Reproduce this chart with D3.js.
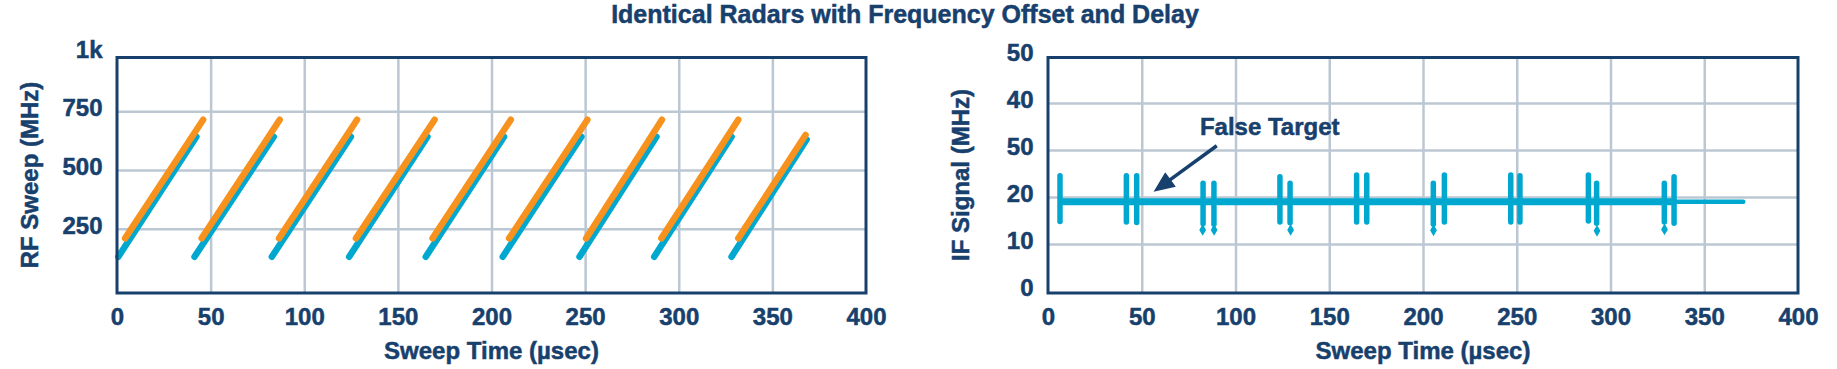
<!DOCTYPE html>
<html><head><meta charset="utf-8">
<script src="https://cdn.jsdelivr.net/npm/d3@7"></script>
<style>
html,body{margin:0;padding:0;background:#fff;}
svg{display:block;}
text{font-family:"Liberation Sans",Arial,sans-serif;font-weight:bold;fill:#17406d;stroke:#17406d;stroke-width:0.5px;}
</style></head><body>
<svg id="chart" width="1837" height="369"></svg>
<script>
// ---------- DATA ----------
const chartTitle = "Identical Radars with Frequency Offset and Delay";
const xTitle = "Sweep Time (µsec)";
const rfTitle = "RF Sweep (MHz)";
const ifTitle = "IF Signal (MHz)";
const xTicks = [0, 50, 100, 150, 200, 250, 300, 350, 400];
const rfYTicks = [250, 500, 750, 1000];
const rfYTickLabels = ["250", "500", "750", "1k"];
const ifYTicks = [0, 10, 20, 30, 40, 50];
const ifYTickLabels = ["0", "10", "20", "50", "40", "50"];

// RF sweeps (time in µs, frequency in MHz)
const blueStartTime = [0.7, 41.4, 82.7, 124.0, 164.9, 206.0, 247.0, 286.9, 328.2];
const blueEndTime   = [42.4, 83.7, 124.9, 165.8, 206.7, 248.0, 288.1, 328.2, 368.3];
const blueStartFreq = [131, 131, 131, 131, 131, 131, 131, 131, 131];
const blueEndFreq   = [642, 642, 642, 642, 642, 642, 642, 642, 630];
const orangeStartTime = [4.3, 45.2, 86.5, 127.6, 168.5, 209.4, 250.5, 290.7, 331.8];
const orangeEndTime   = [46.0, 86.9, 128.2, 169.6, 210.3, 251.2, 291.0, 331.8, 367.7];
const orangeStartFreq = [209, 209, 209, 209, 209, 209, 209, 209, 209];
const orangeEndFreq   = [714, 714, 714, 714, 714, 714, 714, 714, 649];

// IF signal
const ifLevel = 19.0;
const ifMainTime = [6.4, 333.9];
const ifTailTime = [333.9, 370.8];
const spikeTime   = [6.4, 41.8, 47.3, 82.7, 88.5, 123.7, 129.1, 164.6, 170.0, 205.5, 211.4, 246.8, 251.7, 288.2, 292.6, 328.7, 333.9];
const spikeTop    = [24.5, 24.5, 24.5, 22.9, 22.9, 24.3, 22.9, 24.7, 24.7, 22.9, 24.7, 24.7, 24.5, 24.7, 22.9, 22.9, 24.3];
const spikeBottom = [14.8, 14.7, 14.6, 14.3, 14.2, 14.7, 14.5, 14.7, 14.7, 14.2, 14.7, 14.7, 14.7, 14.9, 14.4, 14.7, 14.4];
const dotTime  = [82.5, 88.6, 129.4, 205.6, 292.8, 328.8];
const dotValue = [13.0, 13.0, 13.0, 12.9, 12.8, 13.1];

// annotation
const annotationText = "False Target";
const annotationAt = [81, 35.1];
const arrowTail = [90.0, 30.9];
const arrowTip = [56.3, 21.1];

// ---------- STYLE / LAYOUT ----------
const NAVY = "#17406d", GRID = "#bcc7d4", BLUE = "#00a8cf", ORANGE = "#f7921e";
const FONT = "'Liberation Sans', Arial, sans-serif";
const TICK_FS = 24, TITLE_FS = 24;
const plotTop = 57.5, plotBottom = 293;

const svg = d3.select("#chart");

svg.append("text").attr("x", 905).attr("y", 23).attr("text-anchor", "middle")
  .attr("font-size", 25).text(chartTitle);

const xL = d3.scaleLinear([0, 400], [117, 866]);
const yL = d3.scaleLinear([0, 1000], [287.5, 52.5]);
const xR = d3.scaleLinear([0, 400], [1048, 1798]);
const yR = d3.scaleLinear([0, 50], [291, 56]);

function styleText(sel) {
  sel.selectAll("text").attr("font-size", TICK_FS).attr("fill", NAVY)
    .attr("font-weight", "bold").attr("font-family", FONT);
}

function frame(x, y, yGrid, yTicks, yLabels, yTitle, yTitleX) {
  const [x0, x1] = x.range();
  const g = svg.append("g");
  g.append("g").attr("transform", `translate(0,${plotBottom})`)
    .call(d3.axisBottom(x).tickValues(xTicks.slice(1, -1)).tickSize(-(plotBottom - plotTop)).tickFormat(""))
    .call(a => a.select(".domain").remove())
    .call(a => a.selectAll("line").attr("stroke", GRID).attr("stroke-width", 2.5));
  g.append("g").attr("transform", `translate(${x0},0)`)
    .call(d3.axisLeft(y).tickValues(yGrid).tickSize(-(x1 - x0)).tickFormat(""))
    .call(a => a.select(".domain").remove())
    .call(a => a.selectAll("line").attr("stroke", GRID).attr("stroke-width", 2.5));
  svg.append("g").attr("transform", `translate(0,${plotBottom})`)
    .call(d3.axisBottom(x).tickValues(xTicks).tickSize(0).tickPadding(15).tickFormat(d3.format("d")))
    .call(a => a.select(".domain").remove())
    .call(styleText);
  svg.append("g").attr("transform", `translate(${x0},-3)`)
    .call(d3.axisLeft(y).tickValues(yTicks).tickSize(0).tickPadding(14.5).tickFormat((d, i) => yLabels[i]))
    .call(a => a.select(".domain").remove())
    .call(styleText);
  svg.append("text").attr("x", (x0 + x1) / 2).attr("y", 359).attr("text-anchor", "middle")
    .attr("font-size", TITLE_FS).text(xTitle);
  svg.append("text").attr("transform", `translate(${yTitleX},175) rotate(-90)`)
    .attr("text-anchor", "middle").attr("dominant-baseline", "central")
    .attr("font-size", TITLE_FS).text(yTitle);
}

function border(x) {
  const [x0, x1] = x.range();
  svg.append("rect").attr("x", x0).attr("y", plotTop).attr("width", x1 - x0)
    .attr("height", plotBottom - plotTop).attr("fill", "none")
    .attr("stroke", NAVY).attr("stroke-width", 3);
}

// ---------- LEFT: RF SWEEP ----------
frame(xL, yL, [250, 500, 750], rfYTicks, rfYTickLabels, rfTitle, 29);

const line = d3.line();
function sweeps(starts, ends, f0, f1, color) {
  svg.append("g").selectAll("path").data(d3.range(starts.length)).join("path")
    .attr("d", i => line([[xL(starts[i]), yL(f0[i])], [xL(ends[i]), yL(f1[i])]]))
    .attr("stroke", color).attr("stroke-width", 6.5).attr("stroke-linecap", "round").attr("fill", "none");
}
sweeps(blueStartTime, blueEndTime, blueStartFreq, blueEndFreq, BLUE);
sweeps(orangeStartTime, orangeEndTime, orangeStartFreq, orangeEndFreq, ORANGE);
border(xL);

// ---------- RIGHT: IF SIGNAL ----------
frame(xR, yR, [10, 20, 30, 40], ifYTicks, ifYTickLabels, ifTitle, 960);

svg.append("path").attr("d", line(ifMainTime.map(t => [xR(t), yR(ifLevel)])))
  .attr("stroke", BLUE).attr("stroke-width", 7).attr("fill", "none");
svg.append("path").attr("d", line(ifTailTime.map(t => [xR(t), yR(ifLevel)])))
  .attr("stroke", BLUE).attr("stroke-width", 4.5).attr("stroke-linecap", "round").attr("fill", "none");
svg.append("g").selectAll("path").data(d3.range(spikeTime.length)).join("path")
  .attr("d", i => line([[xR(spikeTime[i]), yR(spikeTop[i])], [xR(spikeTime[i]), yR(spikeBottom[i])]]))
  .attr("stroke", BLUE).attr("stroke-width", 5.5).attr("stroke-linecap", "round").attr("fill", "none");
svg.append("g").selectAll("path").data(d3.range(dotTime.length)).join("path")
  .attr("transform", i => `translate(${xR(dotTime[i])},${yR(dotValue[i])})`)
  .attr("d", d3.symbol(d3.symbolDiamond, 40)).attr("fill", BLUE);

// annotation arrow
const tx = xR(arrowTail[0]), ty = yR(arrowTail[1]);
const hx = xR(arrowTip[0]), hy = yR(arrowTip[1]);
const ang = Math.atan2(hy - ty, hx - tx);
const headLen = 21, headW = 9;
const bx = hx - headLen * Math.cos(ang), by = hy - headLen * Math.sin(ang);
svg.append("line").attr("x1", tx).attr("y1", ty).attr("x2", bx + 2 * Math.cos(ang)).attr("y2", by + 2 * Math.sin(ang))
  .attr("stroke", NAVY).attr("stroke-width", 3.5);
svg.append("path").attr("d", line([
  [hx, hy],
  [bx + headW * Math.sin(ang), by - headW * Math.cos(ang)],
  [bx - headW * Math.sin(ang), by + headW * Math.cos(ang)]
]) + "Z").attr("fill", NAVY);
svg.append("text").attr("x", xR(annotationAt[0])).attr("y", yR(annotationAt[1]))
  .attr("dominant-baseline", "central").attr("font-size", TITLE_FS).text(annotationText);
border(xR);
</script>
</body></html>
